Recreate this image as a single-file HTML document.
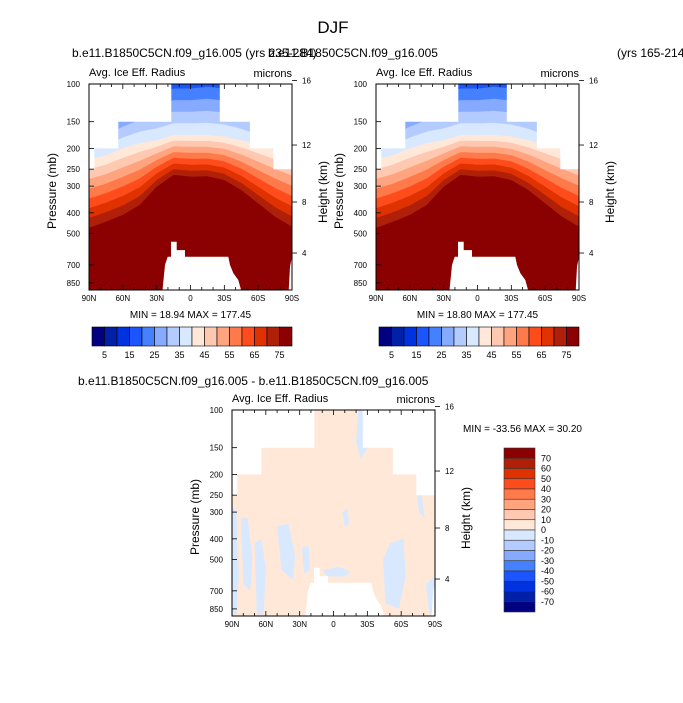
<!DOCTYPE html>
<html><head><meta charset="utf-8"><style>
html,body{margin:0;padding:0;background:#fff;}
svg{display:block;font-family:"Liberation Sans",Arial,sans-serif;}
</style></head><body>
<svg id="fig" width="683" height="703" viewBox="0 0 683 703" xmlns="http://www.w3.org/2000/svg">
<text x="333" y="33" font-size="17" text-anchor="middle">DJF</text>
<text x="72" y="57" font-size="12">b.e11.B1850C5CN.f09_g16.005 (yrs 235-284)</text>
<text x="268" y="57" font-size="12">b.e11.B1850C5CN.f09_g16.005</text>
<text x="617" y="57" font-size="12">(yrs 165-214)</text>
<text x="78" y="385" font-size="12">b.e11.B1850C5CN.f09_g16.005 - b.e11.B1850C5CN.f09_g16.005</text>
<text x="463" y="432" font-size="10">MIN = -33.56  MAX =  30.20</text>
</svg>
<script>
// ---- data ----
const latIdx = [90,75,60,45,30,15,0,-15,-30,-45,-60,-75,-90];
const p20 = [150,140,125,115,110,105,105,103,105,112,125,140,150];
const p40 = [225,215,200,189,183,173,173,173,176,183,193,203,215];
const p75 = [470,440,409,367,302,266,271,270,281,313,361,417,464];
const levels = [5,10,15,20,25,30,35,40,45,50,55,60,65,70,75];
const colors = ["#000080","#0020a8","#0032e0","#1a55ff","#4580ff","#85aaff","#b4cbff","#d8e8ff","#ffe8d8","#ffc8b0","#ffa47e","#ff7a4a","#ff4c1c","#e03200","#b02008","#8b0000"];
const capLat = [90,85.3,64,17,-26,-52.7,-73.4,-90];
const capP = [250,200,150,100,150,200,250];
const holeLat = [25.5,22.6,20.2,17.3,17.3,12.2,12.2,4.9,4.9,-33.5,-35,-38,-42.4,-46.8];
const holeP = [1000,701,641,641,546,546,597,597,641,641,701,767,824,1000];
const hole2Lat = [-86.7,-88.2,-90,-90];
const hole2P = [1000,714,641,1000];
const xTickLabels = ["90N","60N","30N","0","30S","60S","90S"];
const xTickLats = [90,60,30,0,-30,-60,-90];
const pTicks = [100,150,200,250,300,400,500,700,850];
const hTicks = [16,12,8,4];
const cbLabels = [5,15,25,35,45,55,65,75];
const diffLevels = [70,60,50,40,30,20,10,0,-10,-20,-30,-40,-50,-60,-70];
const bluePatches = [
 [[90,86,84,86,90],[280,300,600,900,900]],
 [[82,76,72,74,80],[320,320,500,700,650]],
 [[70,64,60,62,68],[420,400,550,900,900]],
 [[50,40,34,36,46],[350,340,480,620,560]],
 [[28,22,21,26],[440,430,560,580]],
 [[-27,-22,-20,-24,-30],[100,100,140,170,150]],
 [[-44,-50,-62,-64,-58,-46],[500,420,400,600,850,800]],
 [[-78,-74,-76,-81],[250,250,300,320]],
 [[-82,-90,-90,-85],[650,600,900,900]],
 [[10,-5,-15,-10,5],[560,540,570,600,600]],
 [[-8,-12,-14,-10],[300,290,340,350]]
];
const NS = "http://www.w3.org/2000/svg";
const svg = document.getElementById('fig');
function mk(tag, attrs, parent){const e=document.createElementNS(NS,tag);for(const k in attrs)e.setAttribute(k,attrs[k]);(parent||svg).appendChild(e);return e;}
function interpLat(arr, lat){
  const t=(90-lat)/15; let i=Math.max(0,Math.min(11,Math.floor(t))); const f=t-i;
  return Math.log10(arr[i])*(1-f)+Math.log10(arr[i+1])*f;
}
function hPress(h){return 1013.25*Math.pow(1-2.25577e-5*h*1000,5.25588);}

function panel(id, ox, oy, kind, minmax){
  const W=203,H=206;
  const xOf=lat=>ox+(90-lat)*W/180;
  const yOf=p=>oy+(Math.log10(p)-2)*214;
  const g=mk('g',{});
  
  
  const cp=mk('clipPath',{id:id+'-clip'},g); mk('rect',{x:ox,y:oy,width:W,height:H},cp);
  const d=mk('g',{'clip-path':`url(#${id}-clip)`},g);
  if(kind==='field'){
    mk('rect',{x:ox,y:oy,width:W,height:H,fill:colors[0]},d);
    levels.forEach((L,k)=>{
      let pts=[];
      for(let x=ox;x<=ox+W+0.01;x+=1.5){
        const lat=90-(x-ox)*180/W;
        const l20=interpLat(p20,lat),l40=interpLat(p40,lat),l75=interpLat(p75,lat);
        const lp = L<=40 ? l20+(L-20)/20*(l40-l20) : l40+(L-40)/35*(l75-l40);
        pts.push(x.toFixed(1)+','+(oy+(lp-2)*214).toFixed(1));
      }
      pts.push((ox+W+2)+','+(oy+H+5)); pts.push((ox-2)+','+(oy+H+5));
      const pg=mk('polygon',{points:pts.join(' '),fill:colors[k+1]},d);
      
      
    });
  } else {
    mk('rect',{x:ox,y:oy,width:W,height:H,fill:'#ffe8d8'},d);
    bluePatches.forEach((bp,i)=>{
      const pts=bp[0].map((la,j)=>xOf(la).toFixed(1)+','+yOf(bp[1][j]).toFixed(1)).join(' ');
      const pg=mk('polygon',{points:pts,fill:'#d8e8ff'},d);
      
      
    });
  }
  // missing-data cap as a single polygon
  let cpts=[(ox-2)+','+(oy-2)];
  for(let i=0;i<capP.length;i++){
    const x1=i===0?ox-2:xOf(capLat[i]), x2=i===capP.length-1?ox+W+2:xOf(capLat[i+1]);
    const y=yOf(capP[i]);
    cpts.push(x1.toFixed(1)+','+y.toFixed(1)); cpts.push(x2.toFixed(1)+','+y.toFixed(1));
  }
  cpts.push((ox+W+2)+','+(oy-2));
  const cap=mk('polygon',{points:cpts.join(' '),fill:'#fff'},d);
  
  mk('polygon',{points:holeLat.map((la,j)=>xOf(la).toFixed(1)+','+yOf(holeP[j]).toFixed(1)).join(' '),fill:'#fff'},d);
  mk('polygon',{points:hole2Lat.map((la,j)=>xOf(la).toFixed(1)+','+yOf(hole2P[j]).toFixed(1)).join(' '),fill:'#fff'},d);
  // frame
  mk('rect',{x:ox,y:oy,width:W,height:H,fill:'none',stroke:'#000','stroke-width':1},g);
  for(let la=90;la>=-90;la-=10){
    const x=xOf(la), mj=la%30===0, len=mj?5:3;
    mk('line',{x1:x,y1:oy+H,x2:x,y2:oy+H-len,stroke:'#000','stroke-width':0.8},g);
    mk('line',{x1:x,y1:oy,x2:x,y2:oy+len,stroke:'#000','stroke-width':0.8},g);
  }
  xTickLats.forEach((la,i)=>{const t=mk('text',{x:xOf(la),y:oy+H+11,'font-size':8,'text-anchor':'middle'},g);t.textContent=xTickLabels[i];});
  pTicks.forEach(p=>{
    const y=yOf(p);
    mk('line',{x1:ox,y1:y,x2:ox+5,y2:y,stroke:'#000','stroke-width':0.8},g);
    const t=mk('text',{x:ox-9,y:y+3,'font-size':8,'text-anchor':'end'},g);t.textContent=p;
  });
  hTicks.forEach(h=>{
    const y=yOf(hPress(h));
    mk('line',{x1:ox+W,y1:y,x2:ox+W+5,y2:y,stroke:'#000','stroke-width':0.8},g);
    const t=mk('text',{x:ox+W+10,y:y+3,'font-size':8},g);t.textContent=h;
  });
  let t=mk('text',{x:ox,y:oy-8,'font-size':11},g);t.textContent='Avg. Ice Eff. Radius';
  
  t=mk('text',{x:ox+W,y:oy-7,'font-size':11,'text-anchor':'end'},g);t.textContent='microns';
  t=mk('text',{x:0,y:0,'font-size':12,'text-anchor':'middle',transform:`translate(${ox-33},${oy+H/2+4}) rotate(-90)`},g);t.textContent='Pressure (mb)';
  
  t=mk('text',{x:0,y:0,'font-size':12,'text-anchor':'middle',transform:`translate(${ox+W+35},${oy+H/2+5}) rotate(-90)`},g);t.textContent='Height (km)';
  
  if(minmax){t=mk('text',{x:ox+W/2,y:oy+H+28,'font-size':10,'text-anchor':'middle','xml:space':'preserve'},g);t.textContent=minmax;}
}
function hbar(id, x0, y0){
  const g=mk('g',{});
  
  
  const bw=12.5;
  colors.forEach((c,i)=>{const r=mk('rect',{x:x0+i*bw,y:y0,width:bw,height:19,fill:c,stroke:'#000','stroke-width':0.6},g);
    });
  cbLabels.forEach(v=>{const k=levels.indexOf(v)+1;const t=mk('text',{x:x0+k*bw,y:y0+31,'font-size':9,'text-anchor':'middle'},g);t.textContent=v;});
}
function vbar(id, x0, y0){
  const g=mk('g',{});
  
  
  const bh=10.25;
  const rev=colors.slice().reverse();
  rev.forEach((c,i)=>{const r=mk('rect',{x:x0,y:y0+i*bh,width:31,height:bh,fill:c,stroke:'#333','stroke-width':0.6},g);
    });
  diffLevels.forEach((v,i)=>{const t=mk('text',{x:x0+37,y:y0+(i+1)*bh+3,'font-size':9},g);t.textContent=v;});
}
panel('panel-case1',89,84,'field','MIN =  18.94  MAX = 177.45');
panel('panel-case2',376,84,'field','MIN =  18.80  MAX = 177.45');
panel('panel-diff',232,410,'diff',null);
hbar('colorbar-case1',92,327);
hbar('colorbar-case2',379,327);
vbar('colorbar-diff',504,448);
</script>
</body></html>
